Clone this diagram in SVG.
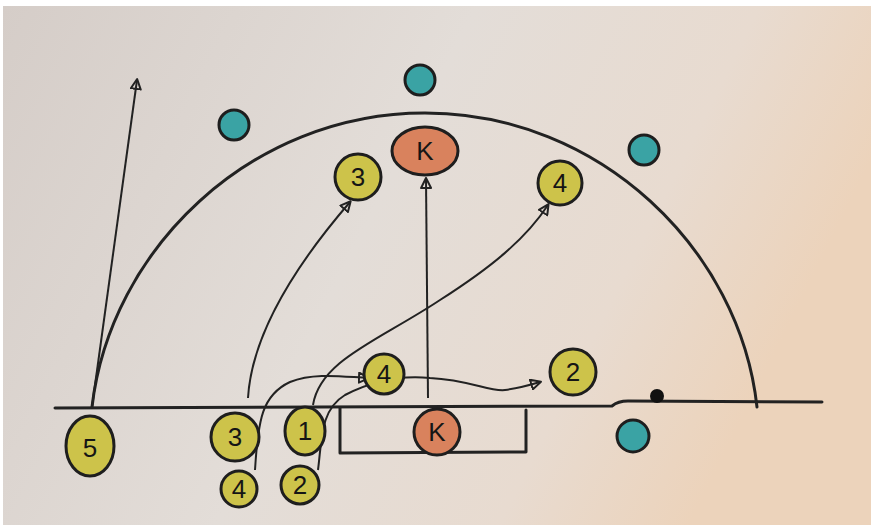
<svg xmlns="http://www.w3.org/2000/svg" width="871" height="525" viewBox="0 0 871 525">
<defs>
<linearGradient id="bg" x1="0" y1="0" x2="1" y2="0.3">
<stop offset="0" stop-color="#d5cdc8"/>
<stop offset="0.5" stop-color="#e3ddd8"/>
<stop offset="0.8" stop-color="#e8dbd0"/>
<stop offset="1" stop-color="#ecd3bb"/>
</linearGradient>
<marker id="ah" viewBox="0 0 12 12" refX="10" refY="6" markerWidth="12" markerHeight="12" markerUnits="userSpaceOnUse" orient="auto">
<path d="M1,1 L11,6 L1,11 Z" fill="none" stroke="#222" stroke-width="2" stroke-linejoin="round"/>
</marker>
<style>
.ln{fill:none;stroke:#222;stroke-width:3;stroke-linecap:round;stroke-linejoin:round}
.cn{fill:none;stroke:#222;stroke-width:2;marker-end:url(#ah)}
.y{fill:#cdc34a;stroke:#1e1e1e;stroke-width:3}
.o{fill:#d9825d;stroke:#1e1e1e;stroke-width:3}
.t{fill:#3aa3a4;stroke:#1e1e1e;stroke-width:3}
.lb{font-family:"Liberation Sans",Arial,sans-serif;font-size:26px;fill:#151515;text-anchor:middle;dominant-baseline:central}
</style>
</defs>
<rect width="871" height="525" fill="#ffffff"/>
<rect x="3" y="6" width="868" height="519" fill="url(#bg)"/>

<g id="field">
<path class="ln" d="M55,408 L612,406 Q618,401 628,401 L822,402"/>
<path class="ln" d="M92,407 C110,250 250,113 425,113 C600,113 740,250 757,407"/>
<path class="ln" d="M340,408 L340,453 L526,452 L526,410"/>
</g>

<g id="connectors">
<path class="cn" d="M92,407 L137,80"/>
<path class="cn" d="M248,398 C252,330 300,260 350,202"/>
<path class="cn" d="M428,398 L426,179"/>
<path class="cn" d="M255,470 C258,420 262,395 290,382 C315,372 345,377 368,378"/>
<path class="cn" d="M313,405 C320,360 380,340 440,300 C490,268 525,240 548,205"/>
<path class="cn" d="M318,470 C322,440 320,410 345,395 C370,382 400,375 430,378 C470,380 490,392 505,390 C520,388 530,385 540,382"/>
</g>

<g id="k-top"><ellipse class="o" cx="425" cy="151" rx="33" ry="24"/><text class="lb" x="425" y="151">K</text></g>
<g id="n3-top"><circle class="y" cx="358" cy="177" r="23"/><text class="lb" x="358" y="177">3</text></g>
<g id="n4-top"><circle class="y" cx="560" cy="183" r="22"/><text class="lb" x="560" y="183">4</text></g>
<g id="n2-right"><circle class="y" cx="573" cy="372" r="23"/><text class="lb" x="573" y="372">2</text></g>
<g id="n4-mid"><circle class="y" cx="384" cy="374" r="20"/><text class="lb" x="384" y="374">4</text></g>
<g id="n5"><ellipse class="y" cx="90" cy="446" rx="24" ry="30"/><text class="lb" x="90" y="448">5</text></g>
<g id="n3-bot"><circle class="y" cx="235" cy="437" r="24"/><text class="lb" x="235" y="437">3</text></g>
<g id="n1"><ellipse class="y" cx="305" cy="431" rx="20" ry="24"/><text class="lb" x="305" y="431">1</text></g>
<g id="n4-bot"><circle class="y" cx="239" cy="489" r="18"/><text class="lb" x="239" y="489" font-size="22">4</text></g>
<g id="n2-bot"><circle class="y" cx="300" cy="485" r="19"/><text class="lb" x="300" y="485" font-size="22">2</text></g>
<g id="k-goal"><circle class="o" cx="437" cy="432" r="23"/><text class="lb" x="437" y="432">K</text></g>

<g id="t1"><circle class="t" cx="420" cy="80" r="15"/></g>
<g id="t2"><circle class="t" cx="234" cy="125" r="15"/></g>
<g id="t3"><circle class="t" cx="644" cy="150" r="15"/></g>
<g id="t4"><circle class="t" cx="633" cy="436" r="16"/></g>
<g id="ball"><circle cx="657" cy="396" r="7" fill="#111"/></g>
</svg>
